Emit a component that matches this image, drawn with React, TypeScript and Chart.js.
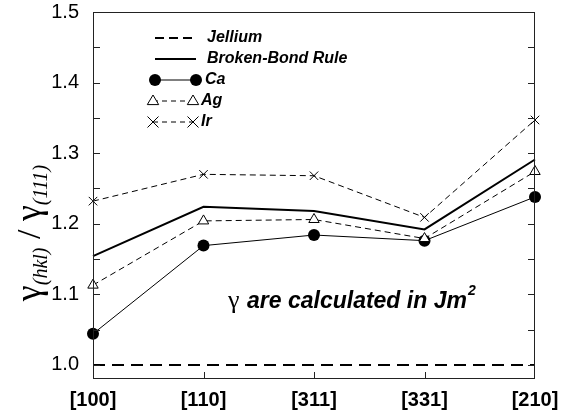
import React, { useEffect, useRef } from "react";
import { Chart, registerables } from "chart.js";

Chart.register(...registerables);

const categories = ["[100]", "[110]", "[311]", "[331]", "[210]"];
const jellium = [1.0, 1.0, 1.0, 1.0, 1.0];
const brokenBond = [1.154, 1.224, 1.218, 1.192, 1.291];
const ca = [1.044, 1.169, 1.184, 1.176, 1.238];
const ag = [1.113, 1.204, 1.206, 1.179, 1.274];
const ir = [1.232, 1.27, 1.268, 1.209, 1.347];
const yTickLabels = [1.0, 1.1, 1.2, 1.3, 1.4, 1.5];
const yMinorTicks = [1.0, 1.05, 1.1, 1.15, 1.2, 1.25, 1.3, 1.35, 1.4, 1.45, 1.5];

const SANS = "'Liberation Sans', Arial, Helvetica, sans-serif";
const SERIF = "'Liberation Serif', 'Times New Roman', serif";

function drawTri(ctx: CanvasRenderingContext2D, x: number, y: number, r: number) {
  ctx.beginPath();
  ctx.moveTo(x, y - r);
  ctx.lineTo(x + r * 0.95, y + r * 0.6);
  ctx.lineTo(x - r * 0.95, y + r * 0.6);
  ctx.closePath();
  ctx.fillStyle = "#fff";
  ctx.fill();
  ctx.stroke();
}
function drawX(ctx: CanvasRenderingContext2D, x: number, y: number, r: number) {
  ctx.beginPath();
  ctx.moveTo(x - r, y - r);
  ctx.lineTo(x + r, y + r);
  ctx.moveTo(x - r, y + r);
  ctx.lineTo(x + r, y - r);
  ctx.stroke();
}

const decor = {
  id: "decor",
  afterDraw(chart: any) {
    const ctx: CanvasRenderingContext2D = chart.ctx;
    const { left, right, top, bottom } = chart.chartArea;
    const ys = chart.scales.y;
    const xs = chart.scales.x;
    ctx.save();
    ctx.strokeStyle = "#222";
    ctx.lineWidth = 1;
    ctx.setLineDash([]);
    ctx.strokeRect(left + 0.5, top + 0.5, right - left - 1, bottom - top - 1);
    ctx.beginPath();
    for (const v of yMinorTicks) {
      const py = Math.round(ys.getPixelForValue(v)) + 0.5;
      ctx.moveTo(left, py);
      ctx.lineTo(left + 7, py);
      ctx.moveTo(right, py);
      ctx.lineTo(right - 7, py);
    }
    for (let i = 1; i < categories.length - 1; i++) {
      const px = Math.round(xs.getPixelForValue(i)) + 0.5;
      ctx.moveTo(px, bottom);
      ctx.lineTo(px, bottom - 7);
    }
    ctx.stroke();

    // legend
    ctx.strokeStyle = "#000";
    ctx.fillStyle = "#000";
    const x1 = 155, x2 = 196;
    const rows = [38, 59, 80, 101, 122];
    ctx.lineWidth = 2;
    ctx.setLineDash([9, 5]);
    ctx.beginPath(); ctx.moveTo(x1, rows[0]); ctx.lineTo(x2, rows[0]); ctx.stroke();
    ctx.setLineDash([]);
    ctx.beginPath(); ctx.moveTo(x1, rows[1]); ctx.lineTo(x2, rows[1]); ctx.stroke();
    ctx.lineWidth = 1;
    ctx.beginPath(); ctx.moveTo(x1, rows[2]); ctx.lineTo(x2, rows[2]); ctx.stroke();
    ctx.beginPath(); ctx.arc(x1, rows[2], 6, 0, Math.PI * 2); ctx.fill();
    ctx.beginPath(); ctx.arc(x2, rows[2], 6, 0, Math.PI * 2); ctx.fill();
    ctx.setLineDash([5, 4]);
    ctx.beginPath(); ctx.moveTo(153, rows[3]); ctx.lineTo(193, rows[3]); ctx.stroke();
    ctx.beginPath(); ctx.moveTo(153, rows[4]); ctx.lineTo(193, rows[4]); ctx.stroke();
    ctx.setLineDash([]);
    drawTri(ctx, 153, rows[3], 6);
    drawTri(ctx, 193, rows[3], 6);
    drawX(ctx, 153, rows[4], 5.5);
    drawX(ctx, 193, rows[4], 5.5);
    ctx.fillStyle = "#000";
    ctx.font = `italic bold 16px ${SANS}`;
    ctx.textBaseline = "middle";
    ctx.textAlign = "left";
    ctx.fillText("Jellium", 207, rows[0]);
    ctx.fillText("Broken-Bond Rule", 207, rows[1]);
    ctx.fillText("Ca", 205, rows[2]);
    ctx.fillText("Ag", 201, rows[3]);
    ctx.fillText("Ir", 201, rows[4]);

    // annotation
    ctx.textBaseline = "alphabetic";
    let ax = 228;
    const ay = 308;
    ctx.font = `26px ${SERIF}`;
    ctx.fillText("γ", ax, ay);
    ax = 247;
    ctx.font = `italic bold 23px ${SANS}`;
    ctx.fillText("are calculated in Jm", ax, ay);
    ax += ctx.measureText("are calculated in Jm").width + 1;
    ctx.font = `italic bold 14px ${SANS}`;
    ctx.fillText("2", ax, ay - 13);

    // y title
    ctx.translate(40, 233);
    ctx.rotate(-Math.PI / 2);
    const parts: [string, string, number][] = [
      ["γ", `36px ${SERIF}`, 0],
      ["(hkl)", `italic 20px ${SERIF}`, 7],
      [" / ", `34px ${SERIF}`, 0],
      ["γ", `36px ${SERIF}`, 0],
      ["(111)", `italic 20px ${SERIF}`, 7],
    ];
    let total = 0;
    for (const [t, f] of parts) { ctx.font = f; total += ctx.measureText(t).width; }
    let tx = -total / 2;
    for (const [t, f, dy] of parts) {
      ctx.font = f;
      ctx.fillText(t, tx, dy);
      tx += ctx.measureText(t).width;
    }
    ctx.restore();
  },
};

export default function App() {
  const ref = useRef<HTMLCanvasElement | null>(null);
  useEffect(() => {
    if (!ref.current) return;
    const chart = new Chart(ref.current, {
      type: "line",
      data: {
        labels: categories,
        datasets: [
          {
            label: "Ir", data: ir, borderColor: "#000", borderWidth: 1, borderDash: [6, 4],
            pointStyle: "crossRot", pointRadius: 6, pointBorderWidth: 1, pointBorderColor: "#000",
            pointBackgroundColor: "#fff", fill: false, tension: 0,
          },
          {
            label: "Ag", data: ag, borderColor: "#000", borderWidth: 1, borderDash: [6, 4],
            pointStyle: "triangle", pointRadius: 6, pointBorderWidth: 1, pointBorderColor: "#000",
            pointBackgroundColor: "#fff", fill: false, tension: 0,
          },
          {
            label: "Ca", data: ca, borderColor: "#000", borderWidth: 1,
            pointStyle: "circle", pointRadius: 6, pointBorderWidth: 0,
            pointBackgroundColor: "#000", fill: false, tension: 0,
          },
          {
            label: "Broken-Bond Rule", data: brokenBond, borderColor: "#000", borderWidth: 2,
            pointRadius: 0, fill: false, tension: 0,
          },
          {
            label: "Jellium", data: jellium, borderColor: "#000", borderWidth: 2, borderDash: [12, 7],
            pointRadius: 0, fill: false, tension: 0,
          },
        ],
      },
      options: {
        animation: false,
        responsive: false,
        devicePixelRatio: 1,
        layout: { padding: { top: 12, right: 39, left: 0, bottom: 0 } },
        plugins: { legend: { display: false }, tooltip: { enabled: false } },
        scales: {
          x: {
            type: "category",
            offset: false,
            grid: { display: false },
            border: { display: false },
            ticks: {
              color: "#000",
              font: { family: SANS, size: 20, weight: "bold" },
              padding: 1,
              maxRotation: 0,
              autoSkip: false,
            },
            afterFit(scale: any) {
              scale.height = 37;
              scale.paddingLeft = 0;
              scale.paddingRight = 0;
            },
          },
          y: {
            min: 0.98,
            max: 1.5,
            grid: { display: false },
            border: { display: false },
            afterBuildTicks(scale: any) {
              scale.ticks = yTickLabels.map((v) => ({ value: v }));
            },
            ticks: {
              color: "#000",
              font: { family: SANS, size: 20 },
              padding: 6,
              callback: (v: any) => Number(v).toFixed(1),
            },
            afterFit(scale: any) {
              scale.width = 93;
              scale.paddingTop = 0;
              scale.paddingBottom = 0;
            },
          },
        },
      },
      plugins: [decor],
    } as any);
    return () => chart.destroy();
  }, []);
  return (
    <div style={{ position: "absolute", left: 0, top: 0, width: 574, height: 416, background: "#fff" }}>
      <canvas ref={ref} width={574} height={416} />
    </div>
  );
}
